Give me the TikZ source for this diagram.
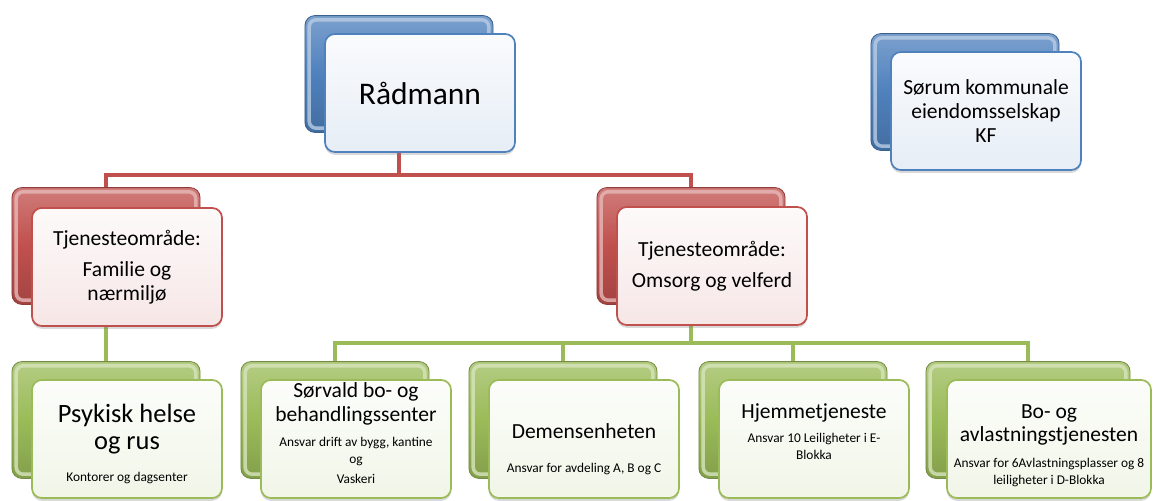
\documentclass[tikz,border=0pt]{standalone}
\usepackage{fontspec}
\setmainfont{Carlito}
\usetikzlibrary{shadows,backgrounds}

\definecolor{offblue}{HTML}{4F81BD}
\definecolor{offred}{HTML}{C0504D}
\definecolor{offgreen}{HTML}{9BBB59}

\newcommand{\radfont}{\fontsize{22.4}{26}\selectfont}
\newcommand{\midfont}{\fontsize{15.3}{17}\selectfont}
\newcommand{\psyfont}{\fontsize{18.8}{19.5}\selectfont}
\newcommand{\notefont}{\fontsize{9.5}{12}\selectfont}
\newcommand{\toppad}[1]{\hrule height 0pt\vspace{#1}}
\newcommand{\botpad}[1]{\par\vspace{#1}\hrule height 0pt}

\begin{document}
\begin{tikzpicture}[x=0.025cm, y=-0.025cm,
    backbox/.style={draw=#1!75!black, line width=0.6pt, rounded corners=7pt,
        top color=#1!75!white, bottom color=#1!85!black, middle color=#1,
        path picture={\draw[#1!40!white, line width=2.5pt, rounded corners=5pt, opacity=0.8]
            ([shift={(3pt,-3pt)}]path picture bounding box.north west) rectangle
            ([shift={(-3pt,3pt)}]path picture bounding box.south east) ;},
        minimum width=4.7cm, minimum height=2.92cm, inner sep=0pt},
    frontbox/.style={draw=#1, line width=1.2pt, rounded corners=7pt,
        top color=#1!3!white, bottom color=#1!14!white,
        drop shadow={opacity=0.3, shadow xshift=0pt, shadow yshift=-2pt},
        minimum height=2.95cm, text width=4.55cm, inner xsep=0.1cm, inner ysep=0pt,
        align=flush center, font=\midfont},
    redlink/.style={draw=offred, line width=3.5pt},
    greenlink/.style={draw=offgreen, line width=3.5pt}]
    \useasboundingbox (0, 0) rectangle (1155, 500) ;

    \node[backbox=offblue] (radB) at (399, 74) {} ;
    \node[frontbox=offblue, font=\radfont] (radF) at (420, 93) {Rådmann} ;

    \node[backbox=offblue] (sorumB) at (965, 92) {} ;
    \node[frontbox=offblue] (sorumF) at (986, 111) {Sørum kommunale\\ eiendomsselskap\\ KF} ;

    \node[backbox=offred] (famB) at (106, 246) {} ;
    \node[frontbox=offred] (famF) at (127, 267) {Tjenesteområde:\\[5pt] Familie og\\ nærmiljø} ;

    \node[backbox=offred] (omsB) at (691, 246) {} ;
    \node[frontbox=offred] (omsF) at (712, 266) {Tjenesteområde:\\[5pt] Omsorg og velferd} ;

    \node[backbox=offgreen] (psyB) at (106, 420) {} ;
    \node[frontbox=offgreen] (psyF) at (127, 439) {\toppad{7pt}{\psyfont Psykisk helse\\ og rus\par}\vspace{11pt}{\notefont Kontorer og dagsenter\par}} ;

    \node[backbox=offgreen] (sorB) at (335, 420) {} ;
    \node[frontbox=offgreen] (sorF) at (356, 439) {Sørvald bo- og\\ behandlingssenter\par\vspace{6pt}{\notefont Ansvar drift av bygg, kantine\\ og\par\vspace{2pt}Vaskeri\par}\botpad{8.5pt}} ;

    \node[backbox=offgreen] (demB) at (563, 420) {} ;
    \node[frontbox=offgreen] (demF) at (584, 439) {\toppad{14pt}Demensenheten\par\vspace{12pt}{\notefont Ansvar for avdeling A, B og C\par}} ;

    \node[backbox=offgreen] (hjemB) at (793, 420) {} ;
    \node[frontbox=offgreen] (hjemF) at (814, 439) {Hjemmetjeneste\par\vspace{5pt}{\notefont Ansvar 10 Leiligheter i E-\\ Blokka\par}\botpad{10pt}} ;

    \node[backbox=offgreen, minimum width=5.1cm] (boB) at (1028, 420) {} ;
    \node[frontbox=offgreen, text width=4.9cm] (boF) at (1049, 439) {\toppad{9pt}Bo- og\\ avlastningstjenesten\par\vspace{6pt}{\notefont Ansvar for 6Avlastningsplasser og 8\\ leiligheter i D-Blokka\par}} ;

    \coordinate (redbar) at (0, 175) ;
    \coordinate (greenbar) at (0, 343) ;
    \begin{scope}[on background layer]
        \draw[redlink] (radB.south) -- (radB.south |- redbar) ;
        \draw[redlink] (famB.north) |- (radB.south |- redbar) -| (omsB.north) ;
        \draw[greenlink] (famB.south) -- (psyB.north) ;
        \draw[greenlink] (omsB.south) -- (omsB.south |- greenbar) ;
        \draw[greenlink] (sorB.north) |- (omsB.south |- greenbar) -| (boB.north) ;
        \draw[greenlink] (demB.north) -- (demB.north |- greenbar) ;
        \draw[greenlink] (hjemB.north) -- (hjemB.north |- greenbar) ;
    \end{scope}
\end{tikzpicture}
\end{document}
